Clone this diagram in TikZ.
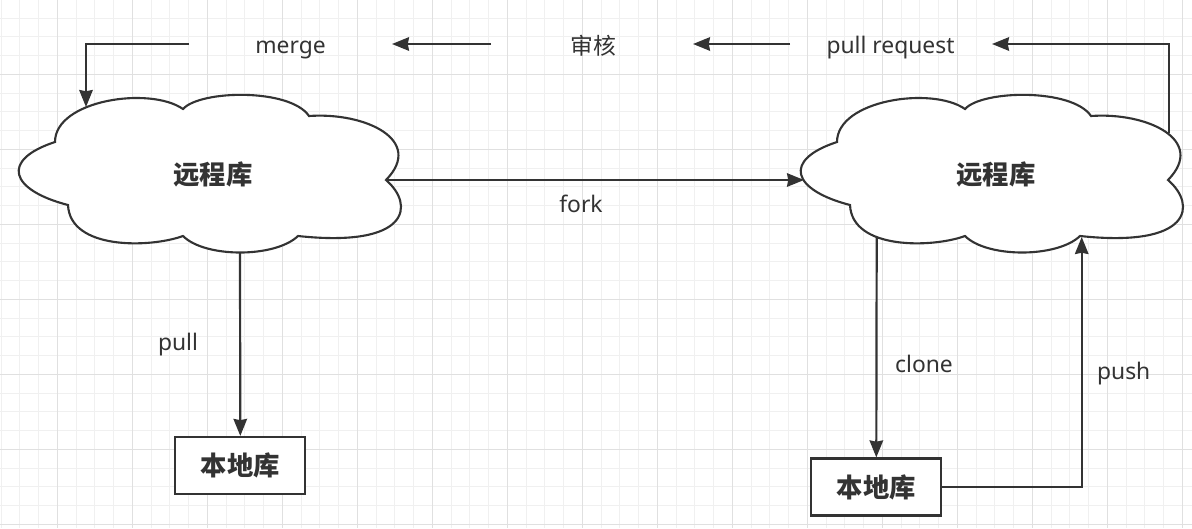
\documentclass[tikz,border=0pt]{standalone}
\usepackage{fontspec}
\setmainfont{Noto Sans}
\newfontfamily\cjk{Noto Sans CJK SC}
\usetikzlibrary{arrows.meta}
\definecolor{ink}{HTML}{333333}
\definecolor{gridminor}{HTML}{F0F0F0}
\definecolor{gridmajor}{HTML}{E0E0E0}

\begin{document}
\begin{tikzpicture}[x=0.02cm,y=-0.02cm,
	flow/.style={draw=ink, line width=1.25pt, -{Stealth[length=0.34cm,width=0.27cm,inset=0.025cm]}},
	cloudline/.style={draw=ink, line width=1.2pt, fill=white},
	repo/.style={font=\cjk\bfseries\fontsize{15pt}{18pt}\selectfont, text=ink},
	lbl/.style={font=\fontsize{13pt}{15pt}\selectfont, text=ink, inner sep=0pt},
	lblcjk/.style={font=\cjk\fontsize{13pt}{15pt}\selectfont, text=ink, inner sep=0pt},
	localbox/.style={repo, draw=ink, line width=1.25pt, fill=white, minimum width=2.6cm, minimum height=1.14cm}]
	
	\useasboundingbox (0,0) rectangle (1192,528);
	
	% Grid
	\foreach \i in {-3,...,60}
		\draw[gridminor, line width=0.5pt] ({57.3+18.75*\i},0) -- ({57.3+18.75*\i},528);
	\foreach \i in {-3,...,24}
		\draw[gridminor, line width=0.5pt] (0,{74.3+18.75*\i}) -- (1192,{74.3+18.75*\i});
	\foreach \i in {0,...,15}
		\draw[gridmajor, line width=0.5pt] ({57.3+75*\i},0) -- ({57.3+75*\i},528);
	\foreach \i in {0,...,6}
		\draw[gridmajor, line width=0.5pt] (0,{74.3+75*\i}) -- (1192,{74.3+75*\i});
	
	% Clouds
	\foreach \dx in {0,782} {
		\begin{scope}[xshift=\dx*0.02cm]
		\draw[cloudline] (55,142) .. controls (55,100) and (150,86) .. (183,109)
			.. controls (200,90) and (290,88) .. (309,116)
			.. controls (365,112) and (425,140) .. (386,180)
			.. controls (415,205) and (410,248) .. (298,236)
			.. controls (275,258) and (205,258) .. (183,236)
			.. controls (150,248) and (70,250) .. (68,205)
			.. controls (10,190) and (0,160) .. (55,142) -- cycle;
		\end{scope}
	}
	
	% Repositories
	\node[repo] (remoteL) at (213,174) {远程库};
	\node[repo] (remoteR) at (996,174) {远程库};
	\node[localbox] (localL) at (240.3,465.5) {本地库};
	\node[localbox] (localR) at (876.3,487) {本地库};
	
	% Labels
	\node[lbl, anchor=base] (lblmerge) at (290.5,53) {merge};
	\node[lblcjk] (lblreview) at (593,45.5) {审核};
	\node[lbl, anchor=base] (lblpr) at (890.5,53) {pull request};
	\node[lbl, anchor=base] (lblfork) at (581,212) {fork};
	\node[lbl, anchor=base] (lblpull) at (178,350) {pull};
	\node[lbl, anchor=base] (lblclone) at (924,372) {clone};
	\node[lbl, anchor=base] (lblpush) at (1123.7,379) {push};
	
	% Connector ends
	\coordinate (cloudLtop) at (86,107);
	\coordinate (cloudLright) at (387,180);
	\coordinate (cloudLbottom) at (240,252);
	\coordinate (cloudRleft) at (804,180);
	\coordinate (cloudRtop) at (1169,133);
	\coordinate (cloudRclone) at (876.7,237);
	\coordinate (cloudRpush) at (1081.7,237);
	\coordinate (mergeFrom) at (189,44);
	\coordinate (reviewFrom) at (491,44);
	\coordinate (reviewTo) at (392,44);
	\coordinate (prFrom) at (790,44);
	\coordinate (prTo) at (693,44);
	\coordinate (prTip) at (992,44);
	
	% Connectors
	\draw[flow] (cloudRtop) |- (prTip);
	\draw[flow] (prFrom) -- (prTo);
	\draw[flow] (reviewFrom) -- (reviewTo);
	\draw[flow] (mergeFrom) -| (cloudLtop);
	\draw[flow] (cloudLright) -- (cloudRleft);
	\draw[flow] (cloudLbottom) -- (localL.north);
	\draw[flow] (cloudRclone) -- (localR.north);
	\draw[flow] (localR.east) -| (cloudRpush);
	
\end{tikzpicture}
\end{document}
